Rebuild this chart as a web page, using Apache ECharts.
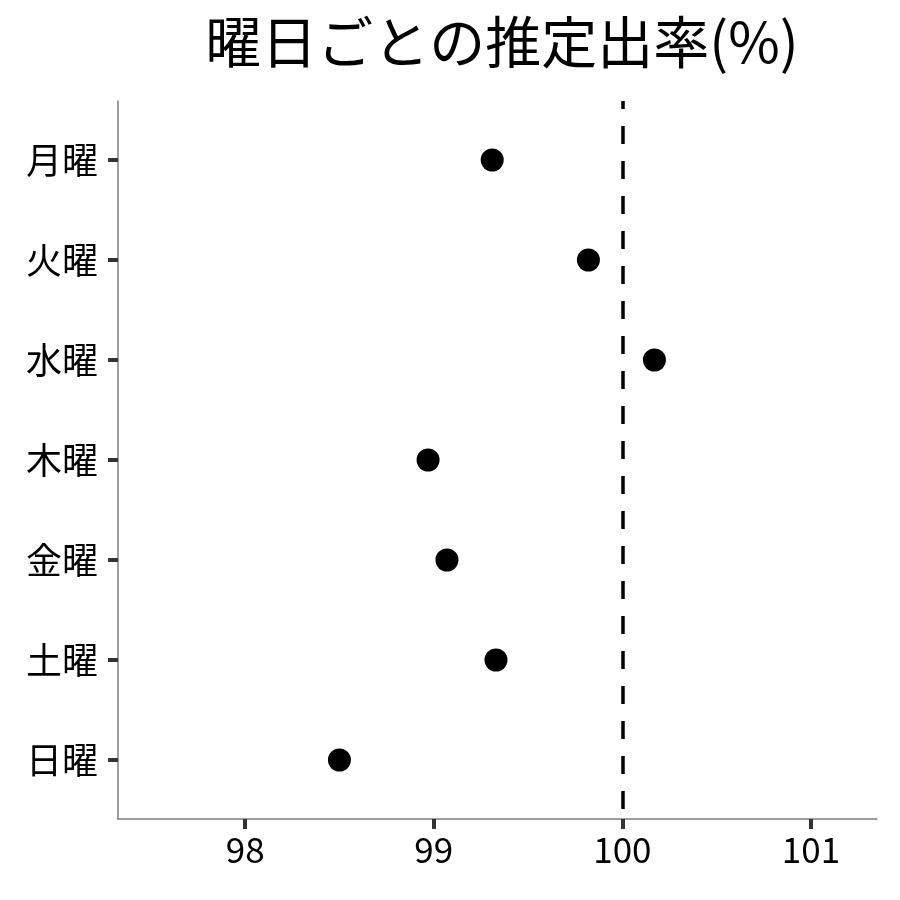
<!DOCTYPE html>
<html>
<head>
<meta charset="utf-8">
<script src="https://cdn.jsdelivr.net/npm/echarts@6/dist/echarts.min.js"></script>
<style>
  html, body { margin: 0; padding: 0; background: #fff; }
  #main { width: 900px; height: 900px; }
</style>
</head>
<body>
<div id="main"></div>
<script>
// data
var days = ['月曜', '火曜', '水曜', '木曜', '金曜', '土曜', '日曜'];
var rates = [99.31, 99.82, 100.17, 98.97, 99.07, 99.33, 98.50];
var xTicks = [98, 99, 100, 101];
var refValue = 100;

var font = '"Noto Sans CJK JP", "Noto Sans", sans-serif';
var dom = document.getElementById('main');
var chart = echarts.init(dom, null, { renderer: 'canvas' });

var points = rates.map(function (v, i) { return [v, i + 1]; });
var yPos = days.map(function (d, i) { return i + 1; });

var option = {
    animation: false,
    backgroundColor: '#fff',
    title: {
        text: '曜日ごとの推定出率(%)',
        left: 497,
        top: 9,
        textAlign: 'center',
        textStyle: { fontFamily: font, fontSize: 56, fontWeight: 'normal', color: '#000' }
    },
    grid: {
        left: 118,
        right: 23,
        top: 101,
        bottom: 81,
        containLabel: false,
        outerBoundsMode: 'none'
    },
    xAxis: {
        type: 'value',
        min: 97.326,
        max: 101.35,
        splitLine: { show: false },
        axisLine: { show: true, lineStyle: { color: '#7f7f7f', width: 1.5 } },
        axisTick: { show: true, length: 10, customValues: xTicks, lineStyle: { color: '#333', width: 4 } },
        axisLabel: {
            customValues: xTicks,
            margin: 13,
            color: '#000',
            fontFamily: font,
            fontSize: 35
        }
    },
    yAxis: {
        type: 'value',
        inverse: true,
        min: 0.41,
        max: 7.59,
        splitLine: { show: false },
        axisLine: { show: true, onZero: false, lineStyle: { color: '#7f7f7f', width: 1.5 } },
        axisTick: { show: true, length: 10, customValues: yPos, lineStyle: { color: '#333', width: 4 } },
        axisLabel: {
            customValues: yPos,
            margin: 20,
            color: '#000',
            fontFamily: font,
            fontSize: 36,
            formatter: function (v) { return days[Math.round(v) - 1]; }
        }
    },
    series: [{
        type: 'scatter',
        data: points,
        symbol: 'circle',
        symbolSize: 23,
        itemStyle: { color: '#000', opacity: 1 },
        markLine: {
            silent: true,
            symbol: 'none',
            label: { show: false },
            lineStyle: { color: '#000', width: 3.5, type: [18, 17], dashOffset: 10 },
            data: [{ xAxis: refValue }]
        }
    }]
};

chart.setOption(option);
</script>
</body>
</html>
